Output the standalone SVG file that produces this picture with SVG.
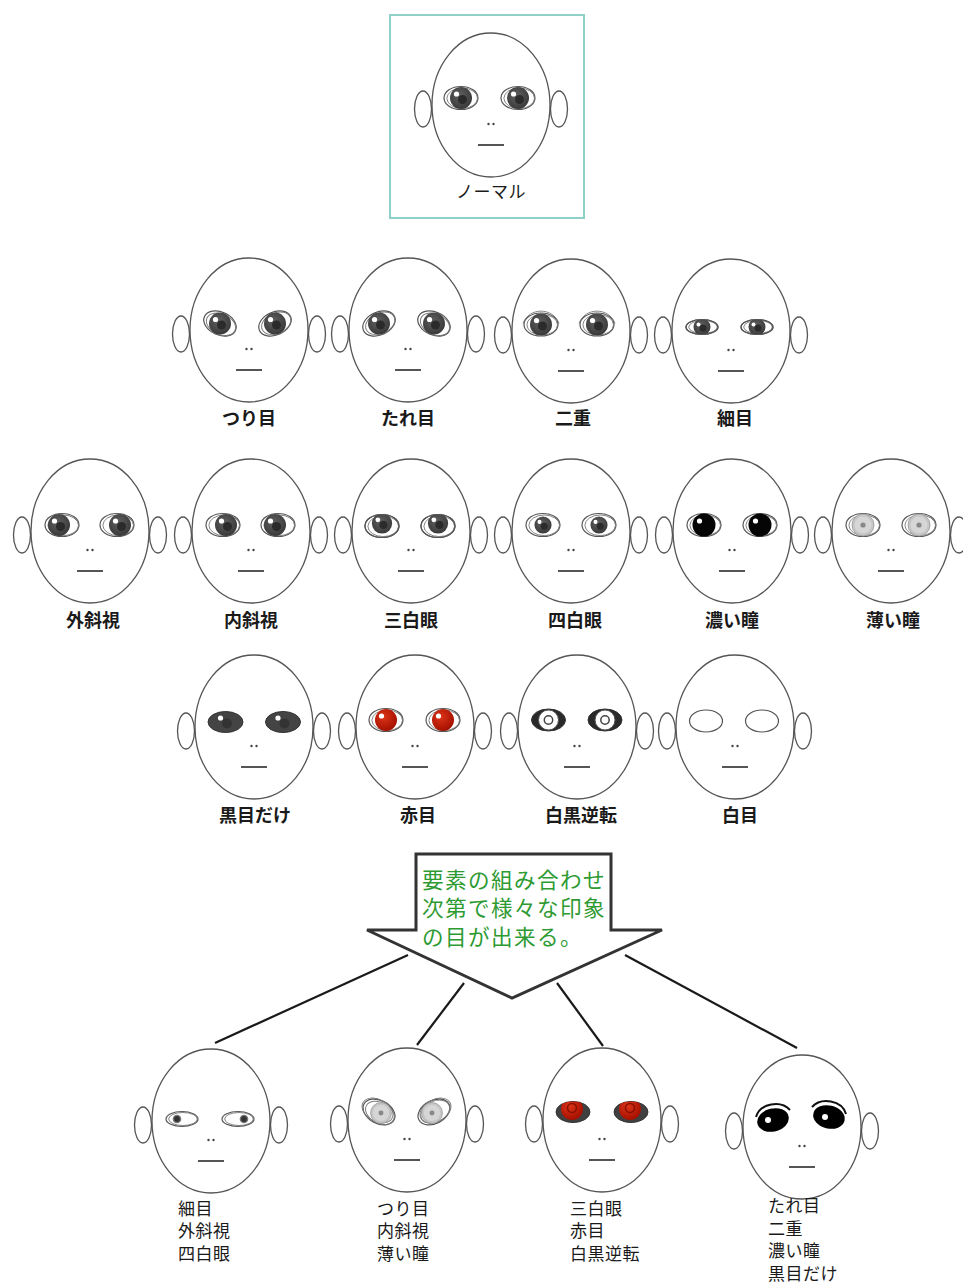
<svg xmlns="http://www.w3.org/2000/svg" xmlns:xlink="http://www.w3.org/1999/xlink" width="963" height="1285" viewBox="0 0 963 1285">
  <style>
    .skin { fill:#fff; stroke:#555; stroke-width:1.3; }
    .mouth { stroke:#555; stroke-width:2; }
    .nose { fill:#444; }
    .lid { fill:#fff; stroke:#555; stroke-width:1.2; }
    .lid2 { fill:none; stroke:#777; stroke-width:0.9; }
    .rim { fill:none; stroke:#555; stroke-width:1.2; }
    .lbl { font-family:"Noto Sans CJK JP","Noto Sans",sans-serif; font-size:18px; font-weight:bold; fill:#1a1a1a; text-anchor:middle; }
    .sub { font-family:"Noto Sans CJK JP","Noto Sans",sans-serif; font-size:17px; fill:#1a1a1a; letter-spacing:0.5px; }
    .msg { font-family:"Noto Sans CJK JP","Noto Sans",sans-serif; font-size:21.6px; letter-spacing:1.4px; fill:#2e9a32; }
    .conn { stroke:#1a1a1a; stroke-width:2.2; fill:none; }
  </style>
  <defs>
    <radialGradient id="gIris" cx="45%" cy="40%" r="60%">
      <stop offset="0" stop-color="#606060"/>
      <stop offset="1" stop-color="#3a3a3a"/>
    </radialGradient>
    <radialGradient id="gRed" cx="40%" cy="35%" r="65%">
      <stop offset="0" stop-color="#dc3418"/>
      <stop offset="1" stop-color="#a51000"/>
    </radialGradient>
    <clipPath id="cEye"><ellipse rx="17" ry="11.5"/></clipPath>
    <clipPath id="cNarrow"><ellipse rx="16" ry="7.5"/></clipPath>
    <clipPath id="cDark"><ellipse rx="17" ry="10.5"/></clipPath>

    <!-- head: ears, outline, nose and mouth, centred on 0,0 -->
    <g id="head">
      <ellipse class="skin" cx="-68" cy="4" rx="8.5" ry="18"/>
      <ellipse class="skin" cx="68" cy="4" rx="8.5" ry="18"/>
      <ellipse class="skin" rx="59" ry="72"/>
      <circle class="nose" cx="-2.5" cy="19" r="1.2"/>
      <circle class="nose" cx="2.5" cy="19" r="1.2"/>
      <line class="mouth" x1="-13" y1="40" x2="13" y2="40"/>
    </g>

    <!-- eyelid outlines -->
    <g id="lid">
      <ellipse class="lid" rx="17" ry="11.5"/>
      <ellipse class="lid2" cx="1.2" cy="0.3" rx="15.3" ry="10.3"/>
    </g>
    <g id="lidN">
      <ellipse class="lid" rx="16" ry="7.5"/>
      <ellipse class="lid2" cx="1" rx="14.3" ry="6.5"/>
    </g>

    <!-- irises -->
    <g id="iris">
      <circle r="11" fill="url(#gIris)"/>
      <circle cx="1.5" cy="1.5" r="4.5" fill="#2b2b2b"/>
      <circle cx="-4.5" cy="-4" r="2.6" fill="#fff"/>
    </g>
    <g id="irisBlack">
      <circle r="11.5" fill="#050505"/>
      <circle cx="-4.5" cy="-4" r="2.6" fill="#fff"/>
    </g>
    <g id="irisLight">
      <circle r="11" fill="#c6c6c6" stroke="#999" stroke-width="0.8"/>
      <circle r="8.5" fill="#d6d6d6"/>
      <circle r="2.6" fill="#888"/>
    </g>
    <g id="irisRed">
      <circle r="11" fill="url(#gRed)"/>
      <circle cx="-4.5" cy="-4" r="2.6" fill="#fff"/>
    </g>

    <!-- complete eyes -->
    <g id="eyeN"><use href="#lid"/><use href="#iris"/></g>
    <g id="eyeDouble">
      <use href="#lid"/><use href="#iris"/>
      <path class="lid2" d="M-18,-1 C-12,-17.5 12,-17.5 18,-1" stroke="#555" stroke-width="1.1"/>
    </g>
    <g id="eyeNarrow">
      <use href="#lidN"/>
      <g clip-path="url(#cNarrow)">
        <circle r="8.5" fill="url(#gIris)"/>
        <circle cx="1" cy="1" r="3.5" fill="#2b2b2b"/>
        <circle cx="-3.5" cy="-2.5" r="2" fill="#fff"/>
      </g>
      <ellipse class="rim" rx="16" ry="7.5"/>
    </g>
    <g id="eyeSanpaku">
      <use href="#lid"/>
      <g clip-path="url(#cEye)"><use href="#iris" transform="translate(0,-2.5) scale(0.92)"/></g>
      <ellipse class="rim" rx="17" ry="11.5"/>
    </g>
    <g id="eyeShihaku">
      <use href="#lid"/>
      <use href="#iris" transform="scale(0.78)"/>
    </g>
    <g id="eyeDark"><use href="#lid"/><use href="#irisBlack"/></g>
    <g id="eyeLight"><use href="#lid"/><use href="#irisLight"/></g>
    <g id="eyeBlackOnly">
      <ellipse rx="17.5" ry="10.5" fill="#444" stroke="#333" stroke-width="1"/>
      <circle cx="1.5" cy="1.5" r="5" fill="#333"/>
      <circle cx="-5" cy="-4" r="2.6" fill="#fff"/>
    </g>
    <g id="eyeRed"><use href="#lid"/><use href="#irisRed"/></g>
    <g id="eyeInvert">
      <ellipse rx="17" ry="11" fill="#2a2a2a" stroke="#333" stroke-width="1"/>
      <circle r="10" fill="#fff" stroke="#555" stroke-width="1"/>
      <circle r="4.2" fill="#fff" stroke="#444" stroke-width="1.5"/>
    </g>
    <g id="eyeWhite"><ellipse class="lid" rx="16.5" ry="11"/></g>
  </defs>

  <rect width="963" height="1285" fill="#fff"/>

  <!-- base face -->
  <g id="face-normal" transform="translate(491,105)">
    <rect x="-101" y="-90" width="194" height="203" fill="none" stroke="#8fd0c8" stroke-width="2"/>
    <use href="#head"/>
    <use href="#eyeN" transform="translate(-30,-7)"/>
    <use href="#eyeN" transform="translate(27,-7)"/>
    <text class="sub" x="0" y="93" text-anchor="middle" font-size="19">ノーマル</text>
  </g>

  <!-- row 1 -->
  <g id="face-tsurime" transform="translate(249,330)">
    <use href="#head"/>
    <g transform="translate(-29,-6.5)"><use href="#lid" transform="rotate(24)"/><use href="#iris"/></g>
    <g transform="translate(26,-6.5)"><use href="#lid" transform="rotate(-24)"/><use href="#iris"/></g>
    <text class="lbl" x="0" y="95">つり目</text>
  </g>
  <g id="face-tareme" transform="translate(408,330)">
    <use href="#head"/>
    <g transform="translate(-29,-6.5)"><use href="#lid" transform="rotate(-24)"/><use href="#iris"/></g>
    <g transform="translate(26,-6.5)"><use href="#lid" transform="rotate(24)"/><use href="#iris"/></g>
    <text class="lbl" x="0" y="95">たれ目</text>
  </g>
  <g id="face-futae" transform="translate(571,331)">
    <use href="#head"/>
    <use href="#eyeDouble" transform="translate(-30,-6.5)"/>
    <use href="#eyeDouble" transform="translate(26,-6.5)"/>
    <text class="lbl" x="2" y="94">二重</text>
  </g>
  <g id="face-hosome" transform="translate(731,331)">
    <use href="#head"/>
    <use href="#eyeNarrow" transform="translate(-29,-4)"/>
    <use href="#eyeNarrow" transform="translate(26,-4)"/>
    <text class="lbl" x="4" y="94">細目</text>
  </g>

  <!-- row 2 -->
  <g id="face-gaishashi" transform="translate(90,531)">
    <use href="#head"/>
    <g transform="translate(-28,-6)"><use href="#lid"/><use href="#iris" transform="translate(-3,0)"/></g>
    <g transform="translate(27,-6)"><use href="#lid"/><use href="#iris" transform="translate(3,0)"/></g>
    <text class="lbl" x="3" y="96">外斜視</text>
  </g>
  <g id="face-naishashi" transform="translate(251,531)">
    <use href="#head"/>
    <g transform="translate(-28,-6)"><use href="#lid"/><use href="#iris" transform="translate(3,0)"/></g>
    <g transform="translate(27,-6)"><use href="#lid"/><use href="#iris" transform="translate(-3,0)"/></g>
    <text class="lbl" x="0" y="96">内斜視</text>
  </g>
  <g id="face-sanpaku" transform="translate(411,531)">
    <use href="#head"/>
    <use href="#eyeSanpaku" transform="translate(-29,-5)"/>
    <use href="#eyeSanpaku" transform="translate(27,-5)"/>
    <text class="lbl" x="0" y="96">三白眼</text>
  </g>
  <g id="face-shihaku" transform="translate(571,531)">
    <use href="#head"/>
    <use href="#eyeShihaku" transform="translate(-28,-6)"/>
    <use href="#eyeShihaku" transform="translate(28,-6)"/>
    <text class="lbl" x="4" y="96">四白眼</text>
  </g>
  <g id="face-koihitomi" transform="translate(732,531)">
    <use href="#head"/>
    <use href="#eyeDark" transform="translate(-28,-6)"/>
    <use href="#eyeDark" transform="translate(28,-6)"/>
    <text class="lbl" x="0" y="96">濃い瞳</text>
  </g>
  <g id="face-usuihitomi" transform="translate(891,531)">
    <use href="#head"/>
    <use href="#eyeLight" transform="translate(-28,-6)"/>
    <use href="#eyeLight" transform="translate(28,-6)"/>
    <text class="lbl" x="2" y="96">薄い瞳</text>
  </g>

  <!-- row 3 -->
  <g id="face-kuromedake" transform="translate(254,727)">
    <use href="#head"/>
    <use href="#eyeBlackOnly" transform="translate(-28.5,-5)"/>
    <use href="#eyeBlackOnly" transform="translate(29,-5)"/>
    <text class="lbl" x="1" y="95">黒目だけ</text>
  </g>
  <g id="face-akame" transform="translate(415,727)">
    <use href="#head"/>
    <use href="#eyeRed" transform="translate(-29,-7)"/>
    <use href="#eyeRed" transform="translate(28,-7)"/>
    <text class="lbl" x="3" y="95">赤目</text>
  </g>
  <g id="face-hakkokugyakuten" transform="translate(577,727)">
    <use href="#head"/>
    <use href="#eyeInvert" transform="translate(-28.5,-7)"/>
    <use href="#eyeInvert" transform="translate(28,-7)"/>
    <text class="lbl" x="4" y="95">白黒逆転</text>
  </g>
  <g id="face-shirome" transform="translate(735,727)">
    <use href="#head"/>
    <use href="#eyeWhite" transform="translate(-29,-6)"/>
    <use href="#eyeWhite" transform="translate(27,-6)"/>
    <text class="lbl" x="5" y="95">白目</text>
  </g>

  <!-- summary arrow -->
  <g id="summary-arrow">
    <polygon points="416,854 611,854 611,930 662,930 512,998 367,930 416,930" fill="#fff" stroke="#333" stroke-width="3" stroke-linejoin="miter"/>
    <text class="msg"><tspan x="422" y="887.5">要素の組み合わせ</tspan><tspan x="422" dy="28.8">次第で様々な印象</tspan><tspan x="422" dy="28.8">の目が出来る。</tspan></text>
  </g>

  <!-- connectors from the arrow to the combined faces -->
  <g id="connectors">
    <line class="conn" x1="408" y1="955" x2="215" y2="1043"/>
    <line class="conn" x1="464" y1="983" x2="417" y2="1045"/>
    <line class="conn" x1="557" y1="983" x2="603" y2="1046"/>
    <line class="conn" x1="625" y1="955" x2="797" y2="1048"/>
  </g>

  <!-- combined faces -->
  <g id="combo-1" transform="translate(211,1121)">
    <use href="#head"/>
    <g transform="translate(-29,-2)"><use href="#lidN"/><circle cx="-5" r="4.3" fill="#777"/><circle cx="-5" r="2.9" fill="#333"/></g>
    <g transform="translate(27,-2)"><use href="#lidN"/><circle cx="6" r="4.3" fill="#777"/><circle cx="6" r="2.9" fill="#333"/></g>
    <text class="sub"><tspan x="-33" y="93.5">細目</tspan><tspan x="-33" dy="22.6">外斜視</tspan><tspan x="-33" dy="22.6">四白眼</tspan></text>
  </g>
  <g id="combo-2" transform="translate(407,1120)">
    <use href="#head"/>
    <g transform="translate(-28,-8)">
      <use href="#lid" transform="rotate(28)"/>
      <ellipse class="lid2" rx="16.5" ry="11" transform="translate(-1.5,-1.5) rotate(28)" stroke="#555"/>
      <use href="#irisLight" transform="translate(2,1) scale(0.95)"/>
    </g>
    <g transform="translate(27,-8)">
      <use href="#lid" transform="rotate(-28)"/>
      <ellipse class="lid2" rx="16.5" ry="11" transform="translate(1.5,-1.5) rotate(-28)" stroke="#555"/>
      <use href="#irisLight" transform="translate(-2,1) scale(0.95)"/>
    </g>
    <text class="sub"><tspan x="-30" y="94.5">つり目</tspan><tspan x="-30" dy="22.6">内斜視</tspan><tspan x="-30" dy="22.6">薄い瞳</tspan></text>
  </g>
  <g id="combo-3" transform="translate(602,1120)">
    <use href="#head"/>
    <g transform="translate(-29,-8)">
      <ellipse rx="17" ry="10.5" fill="#404040" stroke="#333" stroke-width="1"/>
      <g clip-path="url(#cDark)"><circle cx="-1" cy="-3" r="11" fill="url(#gRed)"/></g>
      <circle cx="-1" cy="-4" r="4.5" fill="none" stroke="#8a1000" stroke-width="1.6"/>
    </g>
    <g transform="translate(29,-8)">
      <ellipse rx="17" ry="10.5" fill="#404040" stroke="#333" stroke-width="1"/>
      <g clip-path="url(#cDark)"><circle cx="-1" cy="-3" r="11" fill="url(#gRed)"/></g>
      <circle cx="-1" cy="-4" r="4.5" fill="none" stroke="#8a1000" stroke-width="1.6"/>
    </g>
    <text class="sub"><tspan x="-32" y="94.5">三白眼</tspan><tspan x="-32" dy="22.6">赤目</tspan><tspan x="-32" dy="22.6">白黒逆転</tspan></text>
  </g>
  <g id="combo-4" transform="translate(802,1127)">
    <use href="#head"/>
    <g transform="translate(-29,-7)">
      <path d="M-17,-3 C-13,-17 8,-20 17,-10" fill="none" stroke="#111" stroke-width="2"/>
      <ellipse rx="16" ry="11.5" transform="rotate(-14)" fill="#000"/>
      <circle cx="-5" cy="0" r="3" fill="#fff"/>
    </g>
    <g transform="translate(27,-10)">
      <path d="M-17,-10 C-8,-20 13,-17 17,-3" fill="none" stroke="#111" stroke-width="2"/>
      <ellipse rx="16" ry="11.5" transform="rotate(14)" fill="#000"/>
      <circle cx="-4" cy="0" r="3" fill="#fff"/>
    </g>
    <text class="sub"><tspan x="-34" y="85">たれ目</tspan><tspan x="-34" dy="22.6">二重</tspan><tspan x="-34" dy="22.6">濃い瞳</tspan><tspan x="-34" dy="22.6">黒目だけ</tspan></text>
  </g>
</svg>
